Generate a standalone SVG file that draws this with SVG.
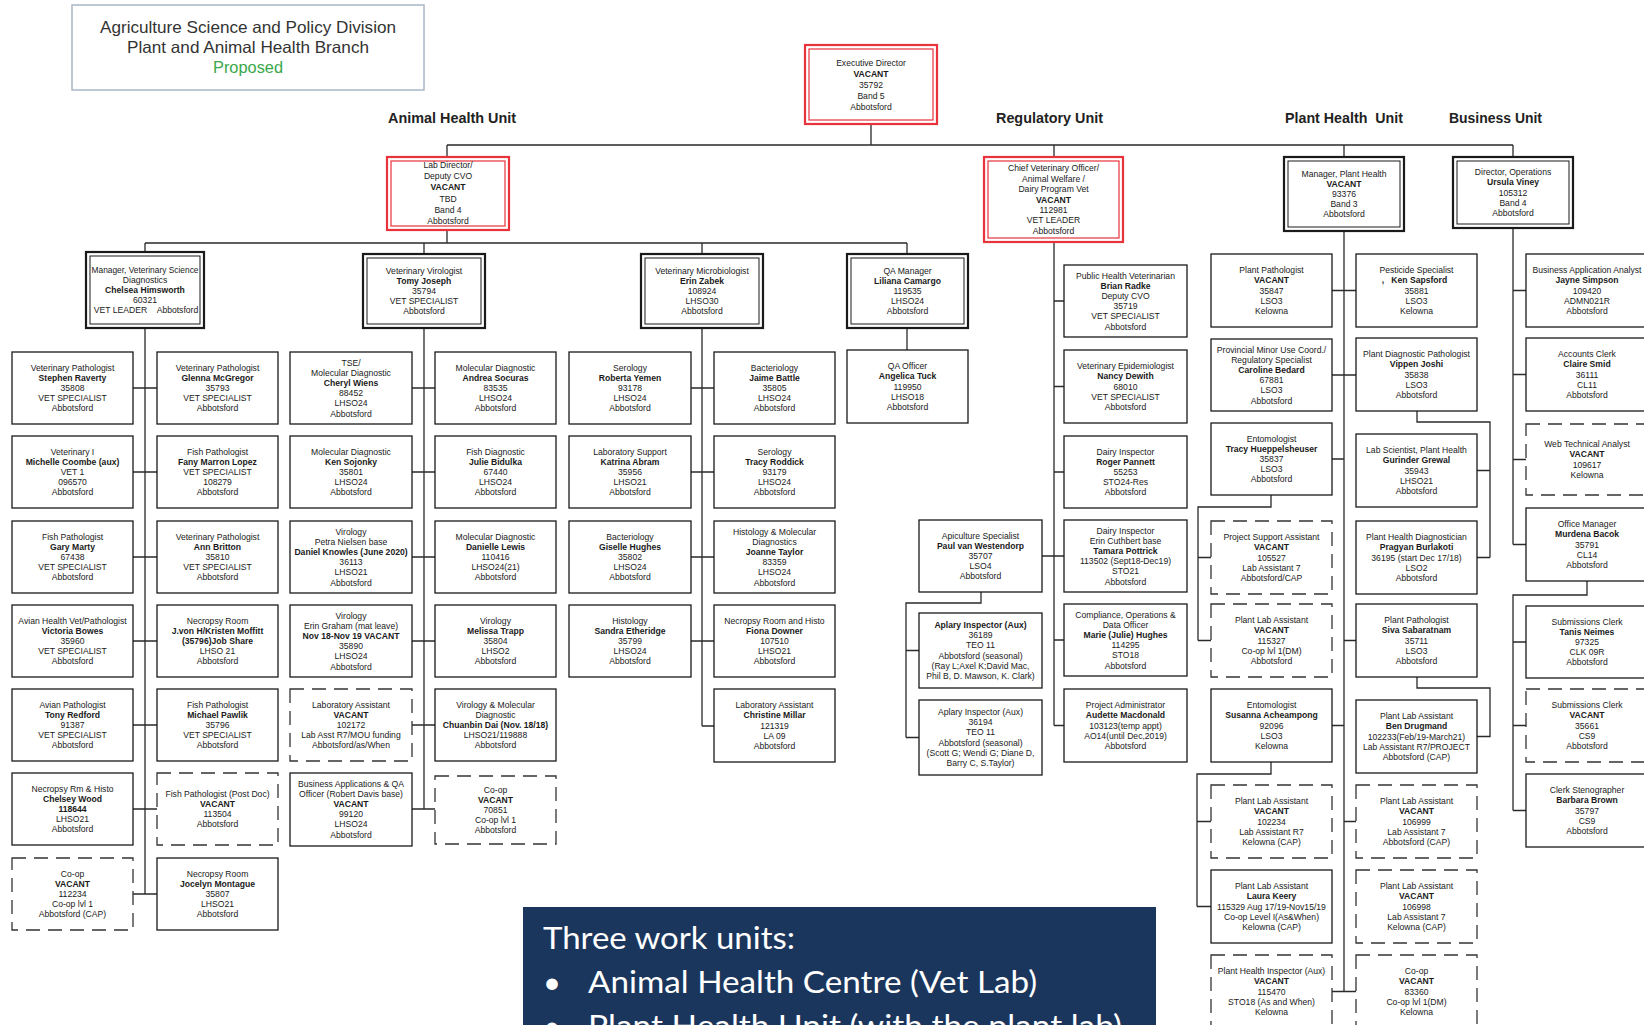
<svg xmlns="http://www.w3.org/2000/svg" width="1644" height="1025" viewBox="0 0 1644 1025">
<style>
.bx{fill:#fff;stroke:#1a1a1a;stroke-width:1.3}
.ds{fill:#fff;stroke:#333;stroke-width:1.3;stroke-dasharray:14 8}
.do{fill:#fff;stroke:#1a1a1a;stroke-width:2.2}
.di{fill:none;stroke:#1a1a1a;stroke-width:1}
.ro{fill:#fff;stroke:#e8333d;stroke-width:2.2}
.ri{fill:none;stroke:#e8333d;stroke-width:1.2}
.t{font-family:"Liberation Sans",Arial,sans-serif;font-size:8.6px;fill:#1a1a1a;text-anchor:middle}
.b{font-weight:bold}
.u{font-family:"Liberation Sans",Arial,sans-serif;font-size:14px;font-weight:bold;fill:#222}
.ti{font-family:"Liberation Sans",Arial,sans-serif;font-size:16.5px;fill:#333;text-anchor:middle}
.w{font-family:Lato,"Open Sans",sans-serif;font-size:31px;fill:#fff}
#connectors path{fill:none;stroke:#2a2a2a;stroke-width:1.3}
</style>

<g id="title">
<rect x="72" y="5" width="352" height="85" fill="#fff" stroke="#a8b6c8" stroke-width="1.5"/>
<text class="ti" x="248" y="33" textLength="296" lengthAdjust="spacingAndGlyphs">Agriculture Science and Policy Division</text>
<text class="ti" x="248" y="53" textLength="242" lengthAdjust="spacingAndGlyphs">Plant and Animal Health Branch</text>
<text class="ti" x="248" y="73" style="fill:#3aa84a" textLength="70" lengthAdjust="spacingAndGlyphs">Proposed</text>
</g>

<g id="unit-labels">
<text class="u" x="388" y="123" textLength="128" lengthAdjust="spacingAndGlyphs">Animal Health Unit</text>
<text class="u" x="996" y="123" textLength="107" lengthAdjust="spacingAndGlyphs">Regulatory Unit</text>
<text class="u" x="1285" y="123" textLength="118" lengthAdjust="spacingAndGlyphs">Plant Health&#160; Unit</text>
<text class="u" x="1449" y="123" textLength="93" lengthAdjust="spacingAndGlyphs">Business Unit</text>
</g>

<g id="connectors">
<path d="M871 124V145M447 145H1513M447 145V157M1054 145V157M1344 145V157M1513 145V157"/>
<path d="M447 230V243M145 243H907M145 243V252M424 243V254M702 243V254M907 243V254"/>
<path d="M145 328V894M133 388H157M133 472H157M133 557H157M133 641H157M133 725H157M133 809H157M133 894H157"/>
<path d="M424 328V809M412 388H435M412 472H435M412 557H435M412 641H435M412 725H435M412 809H435"/>
<path d="M702 328V726M691 388H714M691 472H714M691 557H714M691 641H714M702 726H714"/>
<path d="M907 328V350"/>
<path d="M1054 242V725.5M1054 301H1064M1054 386.5H1064M1054 472H1064M1054 556H1064M1054 640H1064M1054 725.5H1064M1042 556H1054"/>
<path d="M981 592V603H906V737.5M906 650.5H919M906 737.5H919"/>
<path d="M1344 231V991.5M1332 290.5H1356M1332 375H1356M1332 459H1344M1332 725.5H1344M1344 640.5H1356M1344 821.5H1356M1332 991.5H1356"/>
<path d="M1271 495V507H1198V640.5M1198 557.5H1211M1198 640.5H1211"/>
<path d="M1271 762V774H1197V906.5M1197 821.5H1211M1197 906.5H1211"/>
<path d="M1417 411V422H1490V557.5M1477 470.5H1490M1477 557.5H1490"/>
<path d="M1417 677V688H1490V736.5H1477"/>
<path d="M1513 228V544.5M1513 290.5H1526M1513 374.5H1526M1513 459.5H1526M1513 544.5H1526"/>
<path d="M1587 581V595H1513V810.5M1513 642H1526M1513 725.5H1526M1513 810.5H1526"/>
</g>

<g id="exec-director"><rect class="ro" x="805" y="45" width="132" height="79"/><rect class="ri" x="809" y="49" width="124" height="71"/>
<text class="t" y="65.5"><tspan x="871">Executive Director</tspan><tspan x="871" dy="11" class="b">VACANT</tspan><tspan x="871" dy="11">35792</tspan><tspan x="871" dy="11">Band 5</tspan><tspan x="871" dy="11">Abbotsford</tspan></text></g>

<g id="lab-director"><rect class="ro" x="387" y="157" width="122" height="73"/><rect class="ri" x="391" y="161" width="114" height="65"/>
<text class="t" y="168"><tspan x="448">Lab Director/</tspan><tspan x="448" dy="11.2">Deputy CVO</tspan><tspan x="448" dy="11.2" class="b">VACANT</tspan><tspan x="448" dy="11.2">TBD</tspan><tspan x="448" dy="11.2">Band 4</tspan><tspan x="448" dy="11.2">Abbotsford</tspan></text></g>

<g id="cvo"><rect class="ro" x="984" y="157" width="139" height="85"/><rect class="ri" x="988" y="161" width="131" height="77"/>
<text class="t" y="171.3"><tspan x="1053.5">Chief Veterinary Officer/</tspan><tspan x="1053.5" dy="10.4">Animal Welfare /</tspan><tspan x="1053.5" dy="10.4">Dairy Program Vet</tspan><tspan x="1053.5" dy="10.4" class="b">VACANT</tspan><tspan x="1053.5" dy="10.4">112981</tspan><tspan x="1053.5" dy="10.4">VET LEADER</tspan><tspan x="1053.5" dy="10.4">Abbotsford</tspan></text></g>

<g id="mgr-plant"><rect class="do" x="1284" y="157" width="120" height="74"/><rect class="di" x="1288" y="161" width="112" height="66"/>
<text class="t" y="176.6"><tspan x="1344">Manager, Plant Health</tspan><tspan x="1344" dy="10.2" class="b">VACANT</tspan><tspan x="1344" dy="10.2">93376</tspan><tspan x="1344" dy="10.2">Band 3</tspan><tspan x="1344" dy="10.2">Abbotsford</tspan></text></g>

<g id="dir-ops"><rect class="do" x="1453" y="157" width="120" height="71"/><rect class="di" x="1457" y="161" width="112" height="63"/>
<text class="t" y="175.1"><tspan x="1513">Director, Operations</tspan><tspan x="1513" dy="10.2" class="b">Ursula Viney</tspan><tspan x="1513" dy="10.2">105312</tspan><tspan x="1513" dy="10.2">Band 4</tspan><tspan x="1513" dy="10.2">Abbotsford</tspan></text></g>

<g id="mgr-vetsci"><rect class="do" x="86" y="252" width="118" height="76"/><rect class="di" x="90" y="256" width="110" height="68"/>
<text class="t" y="272.6"><tspan x="145" textLength="107" lengthAdjust="spacingAndGlyphs">Manager, Veterinary Science</tspan><tspan x="145" dy="10.2">Diagnostics</tspan><tspan x="145" dy="10.2" class="b">Chelsea Himsworth</tspan><tspan x="145" dy="10.2">60321</tspan><tspan x="146" dy="10.2">VET LEADER&#160;&#160;&#160;&#160;Abbotsford</tspan></text></g>

<g id="vet-virologist"><rect class="do" x="363" y="254" width="122" height="74"/><rect class="di" x="367" y="258" width="114" height="66"/>
<text class="t" y="273.6"><tspan x="424">Veterinary Virologist</tspan><tspan x="424" dy="10.2" class="b">Tomy Joseph</tspan><tspan x="424" dy="10.2">35794</tspan><tspan x="424" dy="10.2">VET SPECIALIST</tspan><tspan x="424" dy="10.2">Abbotsford</tspan></text></g>

<g id="vet-microbiologist"><rect class="do" x="641" y="254" width="122" height="74"/><rect class="di" x="645" y="258" width="114" height="66"/>
<text class="t" y="273.6"><tspan x="702">Veterinary Microbiologist</tspan><tspan x="702" dy="10.2" class="b">Erin Zabek</tspan><tspan x="702" dy="10.2">108924</tspan><tspan x="702" dy="10.2">LHSO30</tspan><tspan x="702" dy="10.2">Abbotsford</tspan></text></g>

<g id="qa-manager"><rect class="do" x="847" y="254" width="121" height="74"/><rect class="di" x="851" y="258" width="113" height="66"/>
<text class="t" y="273.6"><tspan x="907.5">QA Manager</tspan><tspan x="907.5" dy="10.2" class="b">Liliana Camargo</tspan><tspan x="907.5" dy="10.2">119535</tspan><tspan x="907.5" dy="10.2">LHSO24</tspan><tspan x="907.5" dy="10.2">Abbotsford</tspan></text></g>

<g id="qa-officer"><rect class="bx" x="847" y="350" width="121" height="73"/>
<text class="t" y="369.1"><tspan x="907.5">QA Officer</tspan><tspan x="907.5" dy="10.2" class="b">Angelica Tuck</tspan><tspan x="907.5" dy="10.2">119950</tspan><tspan x="907.5" dy="10.2">LHSO18</tspan><tspan x="907.5" dy="10.2">Abbotsford</tspan></text></g>

<g id="a1"><rect class="bx" x="12" y="352" width="121" height="72"/><text class="t" y="370.6"><tspan x="72.5">Veterinary Pathologist</tspan><tspan x="72.5" dy="10.2" class="b">Stephen Raverty</tspan><tspan x="72.5" dy="10.2">35808</tspan><tspan x="72.5" dy="10.2">VET SPECIALIST</tspan><tspan x="72.5" dy="10.2">Abbotsford</tspan></text></g>
<g id="a2"><rect class="bx" x="12" y="436" width="121" height="72"/><text class="t" y="454.6"><tspan x="72.5">Veterinary I</tspan><tspan x="72.5" dy="10.2" class="b">Michelle Coombe (aux)</tspan><tspan x="72.5" dy="10.2">VET 1</tspan><tspan x="72.5" dy="10.2">096570</tspan><tspan x="72.5" dy="10.2">Abbotsford</tspan></text></g>
<g id="a3"><rect class="bx" x="12" y="521" width="121" height="72"/><text class="t" y="539.6"><tspan x="72.5">Fish Pathologist</tspan><tspan x="72.5" dy="10.2" class="b">Gary Marty</tspan><tspan x="72.5" dy="10.2">67438</tspan><tspan x="72.5" dy="10.2">VET SPECIALIST</tspan><tspan x="72.5" dy="10.2">Abbotsford</tspan></text></g>
<g id="a4"><rect class="bx" x="12" y="605" width="121" height="72"/><text class="t" y="623.6"><tspan x="72.5">Avian Health Vet/Pathologist</tspan><tspan x="72.5" dy="10.2" class="b">Victoria Bowes</tspan><tspan x="72.5" dy="10.2">35960</tspan><tspan x="72.5" dy="10.2">VET SPECIALIST</tspan><tspan x="72.5" dy="10.2">Abbotsford</tspan></text></g>
<g id="a5"><rect class="bx" x="12" y="689" width="121" height="72"/><text class="t" y="707.6"><tspan x="72.5">Avian Pathologist</tspan><tspan x="72.5" dy="10.2" class="b">Tony Redford</tspan><tspan x="72.5" dy="10.2">91387</tspan><tspan x="72.5" dy="10.2">VET SPECIALIST</tspan><tspan x="72.5" dy="10.2">Abbotsford</tspan></text></g>
<g id="a6"><rect class="bx" x="12" y="773" width="121" height="72"/><text class="t" y="791.6"><tspan x="72.5">Necropsy Rm &amp; Histo</tspan><tspan x="72.5" dy="10.2" class="b">Chelsey Wood</tspan><tspan x="72.5" dy="10.2" class="b">118644</tspan><tspan x="72.5" dy="10.2">LHSO21</tspan><tspan x="72.5" dy="10.2">Abbotsford</tspan></text></g>
<g id="a7"><rect class="ds" x="12" y="858" width="121" height="72"/><text class="t" y="876.6"><tspan x="72.5">Co-op</tspan><tspan x="72.5" dy="10.2" class="b">VACANT</tspan><tspan x="72.5" dy="10.2">112234</tspan><tspan x="72.5" dy="10.2">Co-op lvl 1</tspan><tspan x="72.5" dy="10.2">Abbotsford (CAP)</tspan></text></g>

<g id="b1"><rect class="bx" x="157" y="352" width="121" height="72"/><text class="t" y="370.6"><tspan x="217.5">Veterinary Pathologist</tspan><tspan x="217.5" dy="10.2" class="b">Glenna McGregor</tspan><tspan x="217.5" dy="10.2">35793</tspan><tspan x="217.5" dy="10.2">VET SPECIALIST</tspan><tspan x="217.5" dy="10.2">Abbotsford</tspan></text></g>
<g id="b2"><rect class="bx" x="157" y="436" width="121" height="72"/><text class="t" y="454.6"><tspan x="217.5">Fish Pathologist</tspan><tspan x="217.5" dy="10.2" class="b">Fany Marron Lopez</tspan><tspan x="217.5" dy="10.2">VET SPECIALIST</tspan><tspan x="217.5" dy="10.2">108279</tspan><tspan x="217.5" dy="10.2">Abbotsford</tspan></text></g>
<g id="b3"><rect class="bx" x="157" y="521" width="121" height="72"/><text class="t" y="539.6"><tspan x="217.5">Veterinary Pathologist</tspan><tspan x="217.5" dy="10.2" class="b">Ann Britton</tspan><tspan x="217.5" dy="10.2">35810</tspan><tspan x="217.5" dy="10.2">VET SPECIALIST</tspan><tspan x="217.5" dy="10.2">Abbotsford</tspan></text></g>
<g id="b4"><rect class="bx" x="157" y="605" width="121" height="72"/><text class="t" y="623.6"><tspan x="217.5">Necropsy Room</tspan><tspan x="217.5" dy="10.2" class="b">J.von H/Kristen Moffitt</tspan><tspan x="217.5" dy="10.2" class="b">(35796)Job Share</tspan><tspan x="217.5" dy="10.2">LHSO 21</tspan><tspan x="217.5" dy="10.2">Abbotsford</tspan></text></g>
<g id="b5"><rect class="bx" x="157" y="689" width="121" height="72"/><text class="t" y="707.6"><tspan x="217.5">Fish Pathologist</tspan><tspan x="217.5" dy="10.2" class="b">Michael Pawlik</tspan><tspan x="217.5" dy="10.2">35796</tspan><tspan x="217.5" dy="10.2">VET SPECIALIST</tspan><tspan x="217.5" dy="10.2">Abbotsford</tspan></text></g>
<g id="b6"><rect class="ds" x="157" y="773" width="121" height="72"/><text class="t" y="796.7"><tspan x="217.5">Fish Pathologist (Post Doc)</tspan><tspan x="217.5" dy="10.2" class="b">VACANT</tspan><tspan x="217.5" dy="10.2">113504</tspan><tspan x="217.5" dy="10.2">Abbotsford</tspan></text></g>
<g id="b7"><rect class="bx" x="157" y="858" width="121" height="72"/><text class="t" y="876.6"><tspan x="217.5">Necropsy Room</tspan><tspan x="217.5" dy="10.2" class="b">Jocelyn Montague</tspan><tspan x="217.5" dy="10.2">35807</tspan><tspan x="217.5" dy="10.2">LHSO21</tspan><tspan x="217.5" dy="10.2">Abbotsford</tspan></text></g>

<g id="c1"><rect class="bx" x="290" y="352" width="122" height="72"/><text class="t" y="365.5"><tspan x="351">TSE/</tspan><tspan x="351" dy="10.2">Molecular Diagnostic</tspan><tspan x="351" dy="10.2" class="b">Cheryl Wiens</tspan><tspan x="351" dy="10.2">88452</tspan><tspan x="351" dy="10.2">LHSO24</tspan><tspan x="351" dy="10.2">Abbotsford</tspan></text></g>
<g id="c2"><rect class="bx" x="290" y="436" width="122" height="72"/><text class="t" y="454.6"><tspan x="351">Molecular Diagnostic</tspan><tspan x="351" dy="10.2" class="b">Ken Sojonky</tspan><tspan x="351" dy="10.2">35801</tspan><tspan x="351" dy="10.2">LHSO24</tspan><tspan x="351" dy="10.2">Abbotsford</tspan></text></g>
<g id="c3"><rect class="bx" x="290" y="521" width="122" height="72"/><text class="t" y="534.5"><tspan x="351">Virology</tspan><tspan x="351" dy="10.2">Petra Nielsen base</tspan><tspan x="351" dy="10.2" class="b">Daniel Knowles (June 2020)</tspan><tspan x="351" dy="10.2">36113</tspan><tspan x="351" dy="10.2">LHSO21</tspan><tspan x="351" dy="10.2">Abbotsford</tspan></text></g>
<g id="c4"><rect class="bx" x="290" y="605" width="122" height="72"/><text class="t" y="618.5"><tspan x="351">Virology</tspan><tspan x="351" dy="10.2">Erin Graham (mat leave)</tspan><tspan x="351" dy="10.2" class="b">Nov 18-Nov 19 VACANT</tspan><tspan x="351" dy="10.2">35890</tspan><tspan x="351" dy="10.2">LHSO24</tspan><tspan x="351" dy="10.2">Abbotsford</tspan></text></g>
<g id="c5"><rect class="ds" x="290" y="689" width="122" height="72"/><text class="t" y="707.6"><tspan x="351">Laboratory Assistant</tspan><tspan x="351" dy="10.2" class="b">VACANT</tspan><tspan x="351" dy="10.2">102172</tspan><tspan x="351" dy="10.2">Lab Asst R7/MOU funding</tspan><tspan x="351" dy="10.2">Abbotsford/as/When</tspan></text></g>
<g id="c6"><rect class="bx" x="290" y="773" width="122" height="73"/><text class="t" y="786.5"><tspan x="351">Business Applications &amp; QA</tspan><tspan x="351" dy="10.2">Officer (Robert Davis base)</tspan><tspan x="351" dy="10.2" class="b">VACANT</tspan><tspan x="351" dy="10.2">99120</tspan><tspan x="351" dy="10.2">LHSO24</tspan><tspan x="351" dy="10.2">Abbotsford</tspan></text></g>

<g id="d1"><rect class="bx" x="435" y="352" width="121" height="72"/><text class="t" y="370.6"><tspan x="495.5">Molecular Diagnostic</tspan><tspan x="495.5" dy="10.2" class="b">Andrea Socuras</tspan><tspan x="495.5" dy="10.2">83535</tspan><tspan x="495.5" dy="10.2">LHSO24</tspan><tspan x="495.5" dy="10.2">Abbotsford</tspan></text></g>
<g id="d2"><rect class="bx" x="435" y="436" width="121" height="72"/><text class="t" y="454.6"><tspan x="495.5">Fish Diagnostic</tspan><tspan x="495.5" dy="10.2" class="b">Julie Bidulka</tspan><tspan x="495.5" dy="10.2">67440</tspan><tspan x="495.5" dy="10.2">LHSO24</tspan><tspan x="495.5" dy="10.2">Abbotsford</tspan></text></g>
<g id="d3"><rect class="bx" x="435" y="521" width="121" height="72"/><text class="t" y="539.6"><tspan x="495.5">Molecular Diagnostic</tspan><tspan x="495.5" dy="10.2" class="b">Danielle Lewis</tspan><tspan x="495.5" dy="10.2">110416</tspan><tspan x="495.5" dy="10.2">LHSO24(21)</tspan><tspan x="495.5" dy="10.2">Abbotsford</tspan></text></g>
<g id="d4"><rect class="bx" x="435" y="605" width="121" height="72"/><text class="t" y="623.6"><tspan x="495.5">Virology</tspan><tspan x="495.5" dy="10.2" class="b">Melissa Trapp</tspan><tspan x="495.5" dy="10.2">35804</tspan><tspan x="495.5" dy="10.2">LHSO2</tspan><tspan x="495.5" dy="10.2">Abbotsford</tspan></text></g>
<g id="d5"><rect class="bx" x="435" y="689" width="121" height="72"/><text class="t" y="707.6"><tspan x="495.5">Virology &amp; Molecular</tspan><tspan x="495.5" dy="10.2">Diagnostic</tspan><tspan x="495.5" dy="10.2" class="b">Chuanbin Dai (Nov. 18/18)</tspan><tspan x="495.5" dy="10.2">LHSO21/119888</tspan><tspan x="495.5" dy="10.2">Abbotsford</tspan></text></g>
<g id="d6"><rect class="ds" x="435" y="776" width="121" height="68"/><text class="t" y="792.6"><tspan x="495.5">Co-op</tspan><tspan x="495.5" dy="10.2" class="b">VACANT</tspan><tspan x="495.5" dy="10.2">70851</tspan><tspan x="495.5" dy="10.2">Co-op lvl 1</tspan><tspan x="495.5" dy="10.2">Abbotsford</tspan></text></g>

<g id="e1"><rect class="bx" x="569" y="352" width="122" height="72"/><text class="t" y="370.6"><tspan x="630">Serology</tspan><tspan x="630" dy="10.2" class="b">Roberta Yemen</tspan><tspan x="630" dy="10.2">93178</tspan><tspan x="630" dy="10.2">LHSO24</tspan><tspan x="630" dy="10.2">Abbotsford</tspan></text></g>
<g id="e2"><rect class="bx" x="569" y="436" width="122" height="72"/><text class="t" y="454.6"><tspan x="630">Laboratory Support</tspan><tspan x="630" dy="10.2" class="b">Katrina Abram</tspan><tspan x="630" dy="10.2">35956</tspan><tspan x="630" dy="10.2">LHSO21</tspan><tspan x="630" dy="10.2">Abbotsford</tspan></text></g>
<g id="e3"><rect class="bx" x="569" y="521" width="122" height="72"/><text class="t" y="539.6"><tspan x="630">Bacteriology</tspan><tspan x="630" dy="10.2" class="b">Giselle Hughes</tspan><tspan x="630" dy="10.2">35802</tspan><tspan x="630" dy="10.2">LHSO24</tspan><tspan x="630" dy="10.2">Abbotsford</tspan></text></g>
<g id="e4"><rect class="bx" x="569" y="605" width="122" height="72"/><text class="t" y="623.6"><tspan x="630">Histology</tspan><tspan x="630" dy="10.2" class="b">Sandra Etheridge</tspan><tspan x="630" dy="10.2">35799</tspan><tspan x="630" dy="10.2">LHSO24</tspan><tspan x="630" dy="10.2">Abbotsford</tspan></text></g>

<g id="f1"><rect class="bx" x="714" y="352" width="121" height="72"/><text class="t" y="370.6"><tspan x="774.5">Bacteriology</tspan><tspan x="774.5" dy="10.2" class="b">Jaime Battle</tspan><tspan x="774.5" dy="10.2">35805</tspan><tspan x="774.5" dy="10.2">LHSO24</tspan><tspan x="774.5" dy="10.2">Abbotsford</tspan></text></g>
<g id="f2"><rect class="bx" x="714" y="436" width="121" height="72"/><text class="t" y="454.6"><tspan x="774.5">Serology</tspan><tspan x="774.5" dy="10.2" class="b">Tracy Roddick</tspan><tspan x="774.5" dy="10.2">93179</tspan><tspan x="774.5" dy="10.2">LHSO24</tspan><tspan x="774.5" dy="10.2">Abbotsford</tspan></text></g>
<g id="f3"><rect class="bx" x="714" y="521" width="121" height="72"/><text class="t" y="534.5"><tspan x="774.5">Histology &amp; Molecular</tspan><tspan x="774.5" dy="10.2">Diagnostics</tspan><tspan x="774.5" dy="10.2" class="b">Joanne Taylor</tspan><tspan x="774.5" dy="10.2">83359</tspan><tspan x="774.5" dy="10.2">LHSO24</tspan><tspan x="774.5" dy="10.2">Abbotsford</tspan></text></g>
<g id="f4"><rect class="bx" x="714" y="605" width="121" height="72"/><text class="t" y="623.6"><tspan x="774.5">Necropsy Room and Histo</tspan><tspan x="774.5" dy="10.2" class="b">Fiona Downer</tspan><tspan x="774.5" dy="10.2">107510</tspan><tspan x="774.5" dy="10.2">LHSO21</tspan><tspan x="774.5" dy="10.2">Abbotsford</tspan></text></g>
<g id="f5"><rect class="bx" x="714" y="689" width="121" height="73"/><text class="t" y="708.1"><tspan x="774.5">Laboratory Assistant</tspan><tspan x="774.5" dy="10.2" class="b">Christine Millar</tspan><tspan x="774.5" dy="10.2">121319</tspan><tspan x="774.5" dy="10.2">LA 09</tspan><tspan x="774.5" dy="10.2">Abbotsford</tspan></text></g>

<g id="r1"><rect class="bx" x="1064" y="265" width="123" height="72"/><text class="t" y="278.5"><tspan x="1125.5">Public Health Veterinarian</tspan><tspan x="1125.5" dy="10.2" class="b">Brian Radke</tspan><tspan x="1125.5" dy="10.2">Deputy CVO</tspan><tspan x="1125.5" dy="10.2">35719</tspan><tspan x="1125.5" dy="10.2">VET SPECIALIST</tspan><tspan x="1125.5" dy="10.2">Abbotsford</tspan></text></g>
<g id="r2"><rect class="bx" x="1064" y="350" width="123" height="73"/><text class="t" y="369.1"><tspan x="1125.5">Veterinary Epidemiologist</tspan><tspan x="1125.5" dy="10.2" class="b">Nancy Dewith</tspan><tspan x="1125.5" dy="10.2">68010</tspan><tspan x="1125.5" dy="10.2">VET SPECIALIST</tspan><tspan x="1125.5" dy="10.2">Abbotsford</tspan></text></g>
<g id="r3"><rect class="bx" x="1064" y="436" width="123" height="72"/><text class="t" y="454.6"><tspan x="1125.5">Dairy Inspector</tspan><tspan x="1125.5" dy="10.2" class="b">Roger Pannett</tspan><tspan x="1125.5" dy="10.2">55253</tspan><tspan x="1125.5" dy="10.2">STO24-Res</tspan><tspan x="1125.5" dy="10.2">Abbotsford</tspan></text></g>
<g id="r4"><rect class="bx" x="1064" y="520" width="123" height="72"/><text class="t" y="533.5"><tspan x="1125.5">Dairy Inspector</tspan><tspan x="1125.5" dy="10.2">Erin Cuthbert base</tspan><tspan x="1125.5" dy="10.2" class="b">Tamara Pottrick</tspan><tspan x="1125.5" dy="10.2">113502 (Sept18-Dec19)</tspan><tspan x="1125.5" dy="10.2">STO21</tspan><tspan x="1125.5" dy="10.2">Abbotsford</tspan></text></g>
<g id="r5"><rect class="bx" x="1064" y="604" width="123" height="72"/><text class="t" y="617.5"><tspan x="1125.5">Compliance, Operations &amp;</tspan><tspan x="1125.5" dy="10.2">Data Officer</tspan><tspan x="1125.5" dy="10.2" class="b">Marie (Julie) Hughes</tspan><tspan x="1125.5" dy="10.2">114295</tspan><tspan x="1125.5" dy="10.2">STO18</tspan><tspan x="1125.5" dy="10.2">Abbotsford</tspan></text></g>
<g id="r6"><rect class="bx" x="1064" y="689" width="123" height="73"/><text class="t" y="708.1"><tspan x="1125.5">Project Administrator</tspan><tspan x="1125.5" dy="10.2" class="b">Audette Macdonald</tspan><tspan x="1125.5" dy="10.2">103123(temp appt)</tspan><tspan x="1125.5" dy="10.2">AO14(until Dec,2019)</tspan><tspan x="1125.5" dy="10.2">Abbotsford</tspan></text></g>
<g id="apiculture"><rect class="bx" x="919" y="520" width="123" height="72"/><text class="t" y="538.6"><tspan x="980.5">Apiculture Specialist</tspan><tspan x="980.5" dy="10.2" class="b">Paul van Westendorp</tspan><tspan x="980.5" dy="10.2">35707</tspan><tspan x="980.5" dy="10.2">LSO4</tspan><tspan x="980.5" dy="10.2">Abbotsford</tspan></text></g>
<g id="apiary1"><rect class="bx" x="919" y="613" width="123" height="75"/><text class="t" y="628"><tspan x="980.5" class="b">Aplary Inspector (Aux)</tspan><tspan x="980.5" dy="10.2">36189</tspan><tspan x="980.5" dy="10.2">TEO 11</tspan><tspan x="980.5" dy="10.2">Abbotsford (seasonal)</tspan><tspan x="980.5" dy="10.2">(Ray L;Axel K;David Mac,</tspan><tspan x="980.5" dy="10.2">Phil B, D. Mawson, K. Clark)</tspan></text></g>
<g id="apiary2"><rect class="bx" x="919" y="700" width="123" height="75"/><text class="t" y="715"><tspan x="980.5">Aplary Inspector (Aux)</tspan><tspan x="980.5" dy="10.2">36194</tspan><tspan x="980.5" dy="10.2">TEO 11</tspan><tspan x="980.5" dy="10.2">Abbotsford (seasonal)</tspan><tspan x="980.5" dy="10.2">(Scott G; Wendi G; Diane D,</tspan><tspan x="980.5" dy="10.2">Barry C, S.Taylor)</tspan></text></g>

<g id="p1"><rect class="bx" x="1211" y="254" width="121" height="73"/><text class="t" y="273.1"><tspan x="1271.5">Plant Pathologist</tspan><tspan x="1271.5" dy="10.2" class="b">VACANT</tspan><tspan x="1271.5" dy="10.2">35847</tspan><tspan x="1271.5" dy="10.2">LSO3</tspan><tspan x="1271.5" dy="10.2">Kelowna</tspan></text></g>
<g id="p2"><rect class="bx" x="1211" y="339" width="121" height="72"/><text class="t" y="352.5"><tspan x="1271.5">Provincial Minor Use Coord./</tspan><tspan x="1271.5" dy="10.2">Regulatory Specialist</tspan><tspan x="1271.5" dy="10.2" class="b">Caroline Bedard</tspan><tspan x="1271.5" dy="10.2">67881</tspan><tspan x="1271.5" dy="10.2">LSO3</tspan><tspan x="1271.5" dy="10.2">Abbotsford</tspan></text></g>
<g id="p3"><rect class="bx" x="1211" y="423" width="121" height="72"/><text class="t" y="441.6"><tspan x="1271.5">Entomologist</tspan><tspan x="1271.5" dy="10.2" class="b">Tracy Hueppelsheuser</tspan><tspan x="1271.5" dy="10.2">35837</tspan><tspan x="1271.5" dy="10.2">LSO3</tspan><tspan x="1271.5" dy="10.2">Abbotsford</tspan></text></g>
<g id="p4"><rect class="ds" x="1211" y="521" width="121" height="73"/><text class="t" y="540.1"><tspan x="1271.5">Project Support Assistant</tspan><tspan x="1271.5" dy="10.2" class="b">VACANT</tspan><tspan x="1271.5" dy="10.2">105527</tspan><tspan x="1271.5" dy="10.2">Lab Assistant 7</tspan><tspan x="1271.5" dy="10.2">Abbotsford/CAP</tspan></text></g>
<g id="p5"><rect class="ds" x="1211" y="604" width="121" height="73"/><text class="t" y="623.1"><tspan x="1271.5">Plant Lab Assistant</tspan><tspan x="1271.5" dy="10.2" class="b">VACANT</tspan><tspan x="1271.5" dy="10.2">115327</tspan><tspan x="1271.5" dy="10.2">Co-op lvl 1(DM)</tspan><tspan x="1271.5" dy="10.2">Abbotsford</tspan></text></g>
<g id="p6"><rect class="bx" x="1211" y="689" width="121" height="73"/><text class="t" y="708.1"><tspan x="1271.5">Entomologist</tspan><tspan x="1271.5" dy="10.2" class="b">Susanna Acheampong</tspan><tspan x="1271.5" dy="10.2">92096</tspan><tspan x="1271.5" dy="10.2">LSO3</tspan><tspan x="1271.5" dy="10.2">Kelowna</tspan></text></g>
<g id="p7"><rect class="ds" x="1211" y="785" width="121" height="73"/><text class="t" y="804.1"><tspan x="1271.5">Plant Lab Assistant</tspan><tspan x="1271.5" dy="10.2" class="b">VACANT</tspan><tspan x="1271.5" dy="10.2">102234</tspan><tspan x="1271.5" dy="10.2">Lab Assistant R7</tspan><tspan x="1271.5" dy="10.2">Kelowna (CAP)</tspan></text></g>
<g id="p8"><rect class="bx" x="1211" y="870" width="121" height="73"/><text class="t" y="889.1"><tspan x="1271.5">Plant Lab Assistant</tspan><tspan x="1271.5" dy="10.2" class="b">Laura Keery</tspan><tspan x="1271.5" dy="10.2">115329 Aug 17/19-Nov15/19</tspan><tspan x="1271.5" dy="10.2">Co-op Level I(As&amp;When)</tspan><tspan x="1271.5" dy="10.2">Kelowna (CAP)</tspan></text></g>
<g id="p9"><rect class="ds" x="1211" y="955" width="121" height="73"/><text class="t" y="974.1"><tspan x="1271.5">Plant Health Inspector (Aux)</tspan><tspan x="1271.5" dy="10.2" class="b">VACANT</tspan><tspan x="1271.5" dy="10.2">115470</tspan><tspan x="1271.5" dy="10.2">STO18 (As and When)</tspan><tspan x="1271.5" dy="10.2">Kelowna</tspan></text></g>

<g id="q1"><rect class="bx" x="1356" y="254" width="121" height="73"/><text class="t" y="273.1"><tspan x="1416.5">Pesticide Specialist</tspan><tspan x="1414.5" dy="10.2" class="b">,&#160;&#160;&#160;Ken Sapsford</tspan><tspan x="1416.5" dy="10.2">35881</tspan><tspan x="1416.5" dy="10.2">LSO3</tspan><tspan x="1416.5" dy="10.2">Kelowna</tspan></text></g>
<g id="q2"><rect class="bx" x="1356" y="338" width="121" height="73"/><text class="t" y="357.1"><tspan x="1416.5">Plant Diagnostic Pathologist</tspan><tspan x="1416.5" dy="10.2" class="b">Vippen Joshi</tspan><tspan x="1416.5" dy="10.2">35838</tspan><tspan x="1416.5" dy="10.2">LSO3</tspan><tspan x="1416.5" dy="10.2">Abbotsford</tspan></text></g>
<g id="q3"><rect class="bx" x="1356" y="434" width="121" height="73"/><text class="t" y="453.1"><tspan x="1416.5">Lab Scientist, Plant Health</tspan><tspan x="1416.5" dy="10.2" class="b">Gurinder Grewal</tspan><tspan x="1416.5" dy="10.2">35943</tspan><tspan x="1416.5" dy="10.2">LHSO21</tspan><tspan x="1416.5" dy="10.2">Abbotsford</tspan></text></g>
<g id="q4"><rect class="bx" x="1356" y="521" width="121" height="73"/><text class="t" y="540.1"><tspan x="1416.5">Plant Health Diagnostician</tspan><tspan x="1416.5" dy="10.2" class="b">Pragyan Burlakoti</tspan><tspan x="1416.5" dy="10.2">36195 (start Dec 17/18)</tspan><tspan x="1416.5" dy="10.2">LSO2</tspan><tspan x="1416.5" dy="10.2">Abbotsford</tspan></text></g>
<g id="q5"><rect class="bx" x="1356" y="604" width="121" height="73"/><text class="t" y="623.1"><tspan x="1416.5">Plant Pathologist</tspan><tspan x="1416.5" dy="10.2" class="b">Siva Sabaratnam</tspan><tspan x="1416.5" dy="10.2">35711</tspan><tspan x="1416.5" dy="10.2">LSO3</tspan><tspan x="1416.5" dy="10.2">Abbotsford</tspan></text></g>
<g id="q6"><rect class="bx" x="1356" y="700" width="121" height="73"/><text class="t" y="719.1"><tspan x="1416.5">Plant Lab Assistant</tspan><tspan x="1416.5" dy="10.2" class="b">Ben Drugmand</tspan><tspan x="1416.5" dy="10.2">102233(Feb/19-March21)</tspan><tspan x="1416.5" dy="10.2">Lab Assistant R7/PROJECT</tspan><tspan x="1416.5" dy="10.2">Abbotsford (CAP)</tspan></text></g>
<g id="q7"><rect class="ds" x="1356" y="785" width="121" height="73"/><text class="t" y="804.1"><tspan x="1416.5">Plant Lab Assistant</tspan><tspan x="1416.5" dy="10.2" class="b">VACANT</tspan><tspan x="1416.5" dy="10.2">106999</tspan><tspan x="1416.5" dy="10.2">Lab Assistant 7</tspan><tspan x="1416.5" dy="10.2">Abbotsford (CAP)</tspan></text></g>
<g id="q8"><rect class="ds" x="1356" y="870" width="121" height="73"/><text class="t" y="889.1"><tspan x="1416.5">Plant Lab Assistant</tspan><tspan x="1416.5" dy="10.2" class="b">VACANT</tspan><tspan x="1416.5" dy="10.2">106998</tspan><tspan x="1416.5" dy="10.2">Lab Assistant 7</tspan><tspan x="1416.5" dy="10.2">Kelowna (CAP)</tspan></text></g>
<g id="q9"><rect class="ds" x="1356" y="955" width="121" height="73"/><text class="t" y="974.1"><tspan x="1416.5">Co-op</tspan><tspan x="1416.5" dy="10.2" class="b">VACANT</tspan><tspan x="1416.5" dy="10.2">83360</tspan><tspan x="1416.5" dy="10.2">Co-op lvl 1(DM)</tspan><tspan x="1416.5" dy="10.2">Kelowna</tspan></text></g>

<g id="s1"><rect class="bx" x="1526" y="254" width="122" height="73"/><text class="t" y="273.1"><tspan x="1587">Business Application Analyst</tspan><tspan x="1587" dy="10.2" class="b">Jayne Simpson</tspan><tspan x="1587" dy="10.2">109420</tspan><tspan x="1587" dy="10.2">ADMN021R</tspan><tspan x="1587" dy="10.2">Abbotsford</tspan></text></g>
<g id="s2"><rect class="bx" x="1526" y="338" width="122" height="73"/><text class="t" y="357.1"><tspan x="1587">Accounts Clerk</tspan><tspan x="1587" dy="10.2" class="b">Claire Smid</tspan><tspan x="1587" dy="10.2">36111</tspan><tspan x="1587" dy="10.2">CL11</tspan><tspan x="1587" dy="10.2">Abbotsford</tspan></text></g>
<g id="s3"><rect class="ds" x="1526" y="424" width="122" height="71"/><text class="t" y="447.2"><tspan x="1587">Web Technical Analyst</tspan><tspan x="1587" dy="10.2" class="b">VACANT</tspan><tspan x="1587" dy="10.2">109617</tspan><tspan x="1587" dy="10.2">Kelowna</tspan></text></g>
<g id="s4"><rect class="bx" x="1526" y="508" width="122" height="73"/><text class="t" y="527.1"><tspan x="1587">Office Manager</tspan><tspan x="1587" dy="10.2" class="b">Murdena Bacok</tspan><tspan x="1587" dy="10.2">35791</tspan><tspan x="1587" dy="10.2">CL14</tspan><tspan x="1587" dy="10.2">Abbotsford</tspan></text></g>
<g id="s5"><rect class="bx" x="1526" y="606" width="122" height="72"/><text class="t" y="624.6"><tspan x="1587">Submissions Clerk</tspan><tspan x="1587" dy="10.2" class="b">Tanis Neimes</tspan><tspan x="1587" dy="10.2">97325</tspan><tspan x="1587" dy="10.2">CLK 09R</tspan><tspan x="1587" dy="10.2">Abbotsford</tspan></text></g>
<g id="s6"><rect class="ds" x="1526" y="689" width="122" height="73"/><text class="t" y="708.1"><tspan x="1587">Submissions Clerk</tspan><tspan x="1587" dy="10.2" class="b">VACANT</tspan><tspan x="1587" dy="10.2">35661</tspan><tspan x="1587" dy="10.2">CS9</tspan><tspan x="1587" dy="10.2">Abbotsford</tspan></text></g>
<g id="s7"><rect class="bx" x="1526" y="774" width="122" height="73"/><text class="t" y="793.1"><tspan x="1587">Clerk Stenographer</tspan><tspan x="1587" dy="10.2" class="b">Barbara Brown</tspan><tspan x="1587" dy="10.2">35797</tspan><tspan x="1587" dy="10.2">CS9</tspan><tspan x="1587" dy="10.2">Abbotsford</tspan></text></g>

<g id="callout">
<rect x="523" y="907" width="633" height="130" fill="#1b365d"/>
<text class="w" x="543" y="949" textLength="252" lengthAdjust="spacingAndGlyphs">Three work units:</text>
<text class="w" x="543" y="993">•</text>
<text class="w" x="588" y="993" textLength="449" lengthAdjust="spacingAndGlyphs">Animal Health Centre (Vet Lab)</text>
<text class="w" x="543" y="1037">•</text>
<text class="w" x="588" y="1037" textLength="534" lengthAdjust="spacingAndGlyphs">Plant Health Unit (with the plant lab)</text>
</g>
</svg>
